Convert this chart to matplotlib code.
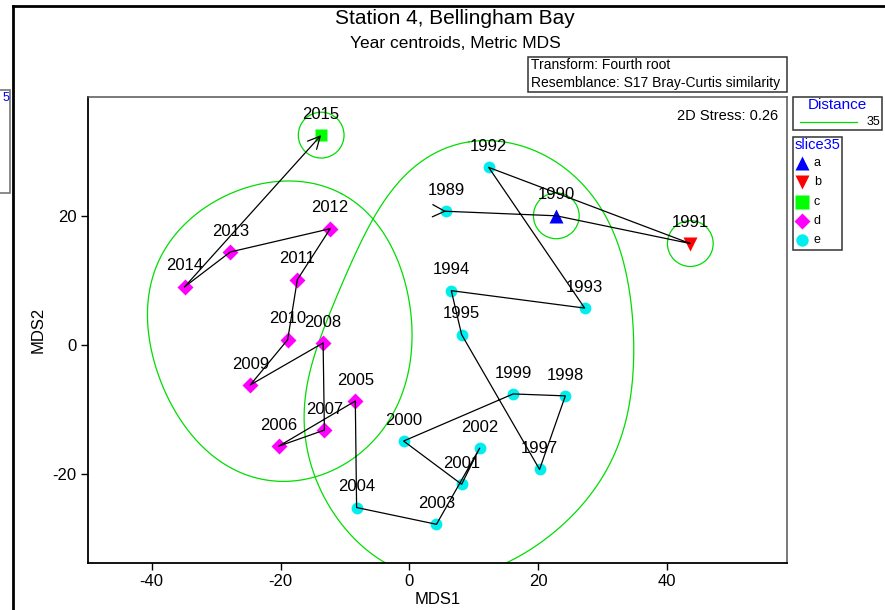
import numpy as np
import matplotlib.pyplot as plt
from matplotlib.patches import Circle, Rectangle
from matplotlib.lines import Line2D

plt.rcParams['font.family'] = ['Liberation Sans', 'DejaVu Sans']
plt.rcParams['axes.unicode_minus'] = False

# Year centroids (metric MDS coordinates), in trajectory order
years = [1989, 1990, 1991, 1992, 1993, 1994, 1995, 1997, 1998, 1999, 2000,
         2001, 2002, 2003, 2004, 2005, 2006, 2007, 2008, 2009, 2010, 2011,
         2012, 2013, 2014, 2015]
mds1 = [5.7, 22.8, 43.6, 12.3, 27.2, 6.5, 8.1, 20.2, 24.2, 16.1, -0.9,
        8.1, 10.9, 4.2, -8.2, -8.4, -20.3, -13.2, -13.4, -24.7, -18.9, -17.4,
        -12.3, -27.8, -34.9, -13.7]
mds2 = [20.7, 20.0, 15.7, 27.5, 5.7, 8.4, 1.6, -19.3, -7.9, -7.6, -14.9,
        -21.6, -16.0, -27.8, -25.2, -8.7, -15.7, -13.2, 0.3, -6.2, 0.8, 10.1,
        18.0, 14.4, 9.0, 32.5]
slice35 = ['e', 'a', 'b', 'e', 'e', 'e', 'e', 'e', 'e', 'e', 'e',
           'e', 'e', 'e', 'e', 'd', 'd', 'd', 'd', 'd', 'd', 'd',
           'd', 'd', 'd', 'c']

stress = 0.26
distance_level = 35

# cluster outlines at distance 35 (groups d and e), traced in MDS units
outline_d_x = [-10.4, -5.9, -2.0, 0.2, -1.6, -7.8, -18.6, -28.7, -32.6,
               -38.8, -40.7, -38.8, -32.6, -24.8, -18.6]
outline_d_y = [24.1, 19.1, 14.3, 2.3, -8.5, -17.1, -21.1, -19.1, -14.3,
               -5.4, 3.9, 14.0, 20.5, 24.1, 25.3]
outline_e_x = [9.3, 21.7, 30.3, 34.2, 34.6, 31.8, 24.8, 14.0, 3.1, -5.4,
               -12.4, -16.3, -15.5, -12.4, -7.0, 0.0]
outline_e_y = [32.0, 28.7, 20.2, 8.5, -4.7, -17.1, -27.2, -33.4, -37.3, -31.8,
               -24.8, -16.3, -6.2, 5.4, 17.1, 26.4]
single_radius = 3.55

styles = {
    'a': dict(marker='^', color='#0000ff', ms=10),
    'b': dict(marker='v', color='#ff0000', ms=10),
    'c': dict(marker='s', color='#00ff00', ms=9),
    'd': dict(marker='D', color='#ff00ff', ms=8),
    'e': dict(marker='o', color='#00eeee', ms=8.5),
}


def smooth_outline(xs, ys, order=4, n=400):
    # closed curve from a low-order Fourier fit of x(t), y(t) along the nodes
    pts = np.column_stack([xs, ys])
    closed = np.vstack([pts, pts[:1]])
    seg = np.hypot(*np.diff(closed, axis=0).T)
    t = 2 * np.pi * np.concatenate([[0], np.cumsum(seg)[:-1]]) / seg.sum()

    def basis(s):
        cols = [np.ones_like(s)]
        for k in range(1, order + 1):
            cols += [np.cos(k * s), np.sin(k * s)]
        return np.column_stack(cols)

    coef, *_ = np.linalg.lstsq(basis(t), pts, rcond=None)
    curve = basis(np.linspace(0, 2 * np.pi, n)) @ coef
    return curve[:, 0], curve[:, 1]


fig = plt.figure(figsize=(8.85, 6.10), dpi=100)
ax = fig.add_axes([0.0994, 0.0770, 0.7898, 0.7639])
ax.set_xlim(-49.9, 58.6)
ax.set_ylim(-33.8, 38.4)

x = np.array(mds1)
y = np.array(mds2)

for grp, st in styles.items():
    idx = [i for i, g in enumerate(slice35) if g == grp]
    ax.plot(x[idx], y[idx], ls='none', marker=st['marker'], ms=st['ms'],
            color=st['color'], mec='none', zorder=2)

# trajectory through the years
ax.plot(x[:-1], y[:-1], color='black', lw=0.9, zorder=3)
ax.annotate('', xy=(x[-1], y[-1]), xytext=(x[-2], y[-2]),
            arrowprops=dict(arrowstyle='->', color='black', lw=0.9,
                            shrinkA=0, shrinkB=0, mutation_scale=22), zorder=3)
start_dir = np.array([x[1] - x[0], y[1] - y[0]])
start_dir = start_dir / np.hypot(*start_dir)
ax.annotate('', xy=(x[0], y[0]), xytext=(x[0] - 0.05 * start_dir[0], y[0] - 0.05 * start_dir[1]),
            arrowprops=dict(arrowstyle='->', color='black', lw=0.9,
                            shrinkA=0, shrinkB=0, mutation_scale=22), zorder=3)

for yr, xi, yi in zip(years, x, y):
    ax.annotate(str(yr), (xi, yi), xytext=(0, 15), textcoords='offset points',
                ha='center', va='center', fontsize=12, zorder=4)

# distance-35 outlines
for ox, oy, order in [(outline_d_x, outline_d_y, 3), (outline_e_x, outline_e_y, 4)]:
    cx, cy = smooth_outline(ox, oy, order=order)
    ax.plot(cx, cy, color='#00dd00', lw=0.9, zorder=1)
for i, g in enumerate(slice35):
    if g in ('a', 'b', 'c'):
        ax.add_patch(Circle((x[i], y[i]), single_radius, fill=False,
                            ec='#00dd00', lw=0.9, zorder=1))

ax.set_xticks([-40, -20, 0, 20, 40])
ax.set_yticks([-20, 0, 20])
ax.tick_params(direction='out', length=5, width=1, labelsize=12, pad=3)
ax.set_xlabel('MDS1', fontsize=12, labelpad=2)
ax.set_ylabel('MDS2', fontsize=12, labelpad=5)
for side in ['left', 'bottom']:
    ax.spines[side].set_linewidth(1.3)
for side in ['top', 'right']:
    ax.spines[side].set_color('#555555')
    ax.spines[side].set_linewidth(1.1)

ax.text(0.987, 0.975, f'2D Stress: {stress}', transform=ax.transAxes,
        ha='right', va='top', fontsize=10.5)

# titles and info box
fig.text(0.514, 0.970, 'Station 4, Bellingham Bay', ha='center', va='center', fontsize=15)
fig.text(0.514, 0.928, 'Year centroids, Metric MDS', ha='center', va='center', fontsize=12.5)
fig.patches.append(Rectangle((528 / 885, 1 - 92 / 610), 259 / 885, 35 / 610,
                             transform=fig.transFigure, fill=False, ec='#333333', lw=1.1))
fig.text(531 / 885, 1 - 65 / 610, 'Transform: Fourth root', ha='left', va='center', fontsize=10)
fig.text(531 / 885, 1 - 83 / 610, 'Resemblance: S17 Bray-Curtis similarity', ha='left',
         va='center', fontsize=10)

# distance legend
fig.patches.append(Rectangle((793 / 885, 1 - 130 / 610), 89 / 885, 33 / 610,
                             transform=fig.transFigure, fill=False, ec='#333333', lw=1.1))
fig.text(837 / 885, 1 - 105 / 610, 'Distance', ha='center', va='center', fontsize=11,
         color='#0000ff')
fig.lines.append(Line2D([800 / 885, 857 / 885], [1 - 122 / 610] * 2, transform=fig.transFigure,
                        color='#00dd00', lw=0.9))
fig.text(880 / 885, 1 - 122 / 610, str(distance_level), ha='right', va='center', fontsize=9)

# group legend
fig.patches.append(Rectangle((793 / 885, 1 - 250 / 610), 49 / 885, 113 / 610,
                             transform=fig.transFigure, fill=False, ec='#333333', lw=1.1))
fig.text(795 / 885, 1 - 145 / 610, 'slice35', ha='left', va='center', fontsize=10.5,
         color='#0000ff')
for k, (grp, st) in enumerate(styles.items()):
    yy = 1 - (163 + 19.3 * k) / 610
    fig.lines.append(Line2D([802 / 885], [yy], transform=fig.transFigure, ls='none',
                            marker=st['marker'], ms=st['ms'] * 1.05, color=st['color'],
                            mec='none'))
    fig.text(814 / 885, yy, grp, ha='left', va='center', fontsize=9)

# page frame and the clipped neighbouring legend
fig.lines.append(Line2D([13 / 885, 13 / 885], [0, 1 - 6 / 610], transform=fig.transFigure,
                        color='black', lw=2))
fig.lines.append(Line2D([13 / 885, 1], [1 - 6 / 610] * 2, transform=fig.transFigure,
                        color='black', lw=2))
fig.patches.append(Rectangle((-5 / 885, 1 - 193 / 610), 15 / 885, 103 / 610,
                             transform=fig.transFigure, fill=False, ec='#777777', lw=1.2))
fig.text(9 / 885, 1 - 98 / 610, '5', ha='right', va='center', fontsize=9, color='#0000ff')

fig.savefig('out.png', dpi=100)
